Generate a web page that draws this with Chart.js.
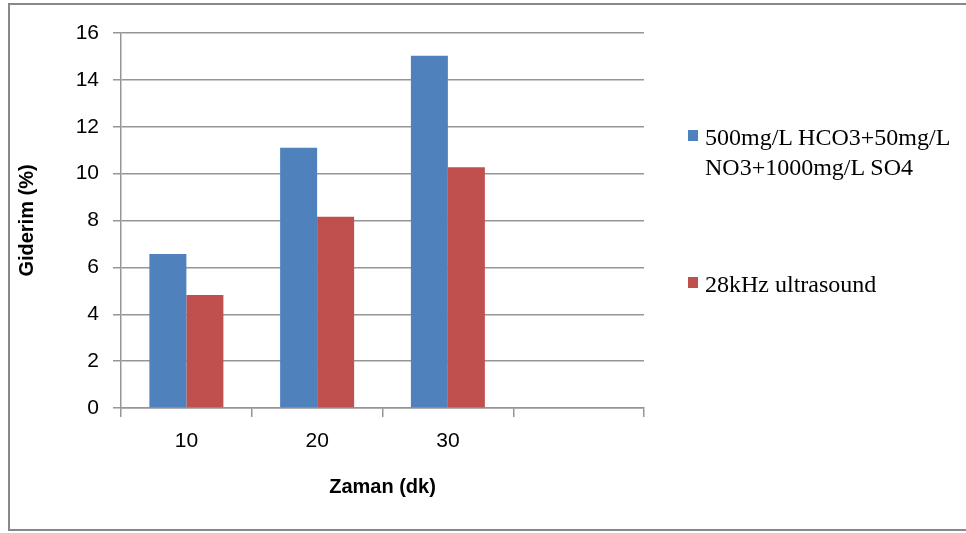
<!DOCTYPE html>
<html>
<head>
<meta charset="utf-8">
<script src="https://cdn.jsdelivr.net/npm/chart.js@4"></script>
<style>
  html, body { margin: 0; padding: 0; background: #fff; overflow: hidden; }
  #wrap { position: relative; width: 966px; height: 533px; }
  #chart { position: absolute; left: 0; top: 0; }
  #legend { position: absolute; left: 688px; top: 122px; width: 270px;
    font-family: "Liberation Serif", "Times New Roman", serif; font-size: 24px; line-height: 30px; color: #000; }
  #legend .item { display: flex; align-items: flex-start; }
  #legend .item + .item { margin-top: 87px; }
  #legend .sw { flex: 0 0 10px; height: 11px; margin: 8px 7px 0 0; }
</style>
</head>
<body>
<div id="wrap">
  <canvas id="chart" width="966" height="533"></canvas>
  <div id="legend"></div>
</div>
<script>
// ===== DATA =====
const categories = ['10', '20', '30', ''];
const seriesNames = ['500mg/L HCO3+50mg/L NO3+1000mg/L SO4', '28kHz ultrasound'];
const ionsValues = [6.57, 11.1, 15.03, null];
const ultrasoundValues = [4.82, 8.16, 10.27, null];
const colors = ['#4F81BD', '#C0504D'];

const axisFont = { family: '"Liberation Sans", Arial, sans-serif', size: 21 };
const titleFont = { family: '"Liberation Sans", Arial, sans-serif', size: 20, weight: 'bold' };
const gridColor = '#969696';

// outer frame like the spreadsheet chart border
const framePlugin = {
  id: 'frame',
  beforeDraw(chart) {
    const ctx = chart.ctx;
    ctx.save();
    ctx.strokeStyle = '#888888';
    ctx.lineWidth = 2;
    ctx.strokeRect(9, 4, 1000, 526);
    ctx.restore();
  }
};

const chart = new Chart(document.getElementById('chart'), {
  type: 'bar',
  data: {
    labels: categories,
    datasets: [
      { label: seriesNames[0], data: ionsValues, backgroundColor: colors[0] },
      { label: seriesNames[1], data: ultrasoundValues, backgroundColor: colors[1] }
    ]
  },
  options: {
    responsive: false,
    animation: false,
    events: [],
    layout: { padding: { top: 33, right: 322, left: 0, bottom: 0 } },
    datasets: { bar: { barPercentage: 1, categoryPercentage: 0.566 } },
    plugins: { legend: { display: false }, tooltip: { enabled: false } },
    scales: {
      x: {
        afterFit(scale) { scale.height = 125; },
        grid: { offset: true, drawOnChartArea: false, drawTicks: true, tickLength: 9, color: gridColor, lineWidth: 1.5 },
        border: { color: gridColor, width: 1.5 },
        ticks: { color: '#000', font: axisFont, padding: 12, maxRotation: 0 },
        title: { display: true, text: 'Zaman (dk)', color: '#000', font: titleFont, padding: { top: 4, bottom: 34 } }
      },
      y: {
        min: 0, max: 16,
        afterFit(scale) { scale.width = 121; },
        grid: { color: gridColor, lineWidth: 1.5, tickLength: 8 },
        border: { color: gridColor, width: 1.5 },
        ticks: { stepSize: 2, color: '#000', font: axisFont, padding: 14 },
        title: { display: true, text: 'Giderim (%)', color: '#000', font: titleFont, padding: { top: 15, bottom: 4 } }
      }
    }
  },
  plugins: [framePlugin]
});

// ===== LEGEND (html, built from the datasets) =====
const legendEl = document.getElementById('legend');
legendEl.innerHTML = chart.data.datasets.map(ds => `
  <div class="item">
    <span class="sw" style="background:${ds.backgroundColor}"></span>
    <span>${ds.label}</span>
  </div>
`).join('');
</script>
</body>
</html>
